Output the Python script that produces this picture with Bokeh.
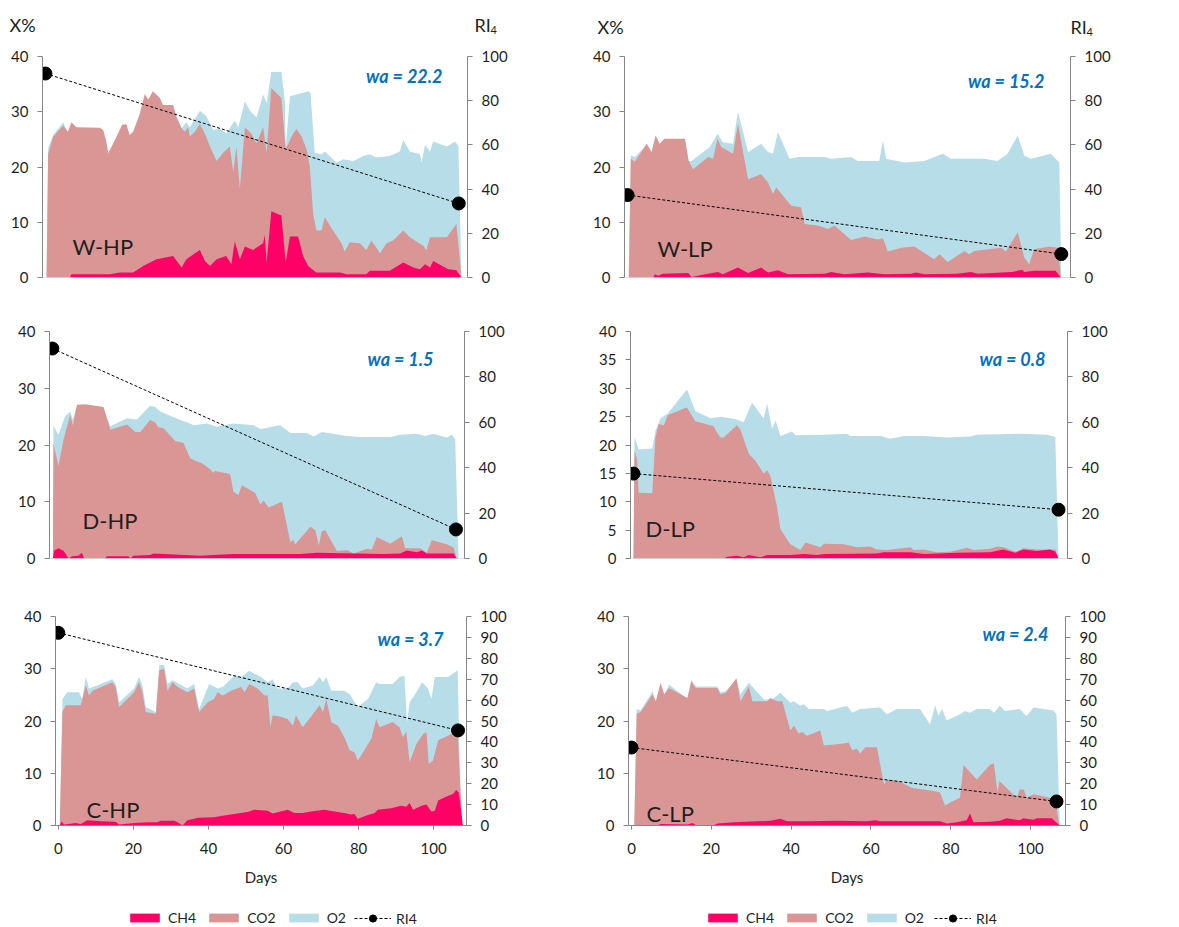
from bokeh.plotting import figure
from bokeh.models import Range1d, LinearAxis, Label, Legend, LegendItem, FixedTicker, Span
from bokeh.layouts import row, column
from bokeh.embed import file_html
from bokeh.resources import INLINE
from bokeh.core.properties import value

# ---------------- data (day, value %) ----------------
ri_days = [0, 106.5]

# W-HP
whp_ch4 = [(6.3,0),(6.7,0.6),(16.6,0.6),(19.2,0.9),(22.6,0.9),(25.2,2.1),(28.6,3.3),(32.9,3.9),(35.1,1.8),(36.3,3.3),(39.8,5.0),(41.1,3.0),(42.4,2.1),(44.1,3.3),(46.6,3.9),(47.9,2.4),(48.8,6.5),(50.1,3.3),(51.4,5.6),(53.5,5.0),(56.1,6.2),(56.5,7.7),(57.0,2.7),(58.2,12.0),(60.8,11.2),(61.9,2.7),(63.0,7.4),(65.1,7.4),(66.4,3.9),(67.7,2.1),(69.8,0.9),(75.9,0.9),(77.6,0.6),(82.7,0.6),(83.6,1.2),(88.7,1.2),(92.2,2.7),(94.8,1.8),(96.5,1.5),(97.8,2.4),(99.1,1.8),(99.9,3.0),(103.8,1.5),(105.9,1.3),(107.2,0)]
whp_co2 = [(0.3,0),(0.7,22.3),(2.0,25.5),(4.6,27.5),(5.8,26.4),(6.7,28.1),(8.0,27.2),(14.0,27.1),(14.9,26.7),(15.6,24.9),(16.2,22.5),(17.9,24.9),(19.8,27.7),(20.9,27.7),(21.7,25.8),(22.6,26.4),(24.3,29.6),(25.6,33.2),(26.5,32.2),(27.7,33.7),(29.5,32.5),(30.3,31.2),(32.9,31.2),(33.8,29.0),(35.1,27.0),(35.9,26.4),(36.8,27.2),(37.2,25.5),(38.5,26.4),(39.8,27.8),(41.1,26.0),(42.4,23.7),(44.1,21.1),(45.8,22.6),(47.5,23.7),(48.4,19.1),(49.2,23.7),(50.1,16.1),(51.4,27.2),(53.1,26.0),(54.4,24.3),(56.1,27.2),(57.0,22.6),(58.2,34.3),(60.8,32.5),(61.9,23.2),(63.8,26.0),(64.7,26.9),(66.0,25.5),(67.3,23.2),(68.1,20.2),(69.0,11.5),(69.8,8.5),(71.1,8.5),(72.0,10.9),(74.1,8.5),(76.3,6.2),(77.1,4.7),(78.4,6.4),(81.0,6.2),(82.7,5.0),(84.0,6.7),(86.2,4.4),(87.9,6.2),(89.6,6.7),(92.2,8.5),(93.9,7.3),(96.5,6.1),(97.3,5.8),(98.2,5.0),(99.1,7.3),(103.4,7.3),(105.9,9.7),(107.2,0)]
whp_o2 = [(0.3,0),(0.7,23.4),(2.0,25.8),(4.6,28.1),(5.8,26.0),(6.7,27.5),(8.0,26.5),(14.0,26.5),(15.6,24.0),(16.2,21.8),(17.9,24.0),(19.8,27.0),(20.9,27.0),(21.7,25.0),(22.6,25.5),(24.3,29.0),(25.6,32.5),(26.5,31.5),(27.7,33.0),(29.5,31.8),(30.3,30.5),(32.9,30.5),(33.8,29.0),(35.1,27.0),(36.3,28.1),(37.2,27.2),(39.8,30.2),(41.5,29.2),(43.2,26.7),(44.9,27.0),(46.6,26.1),(48.8,28.4),(49.7,27.2),(51.4,31.9),(52.7,30.2),(54.4,29.0),(56.1,33.1),(57.0,31.6),(58.2,37.2),(60.8,37.2),(61.7,31.9),(61.9,23.5),(63.0,32.8),(64.7,33.1),(67.7,33.7),(68.3,33.4),(69.4,22.6),(71.1,22.3),(72.0,22.8),(74.1,21.4),(75.0,20.8),(76.7,21.4),(79.3,21.1),(81.9,22.0),(83.6,22.3),(85.3,21.7),(88.7,22.0),(91.3,22.8),(92.2,24.9),(93.9,22.8),(96.5,22.3),(96.9,20.8),(97.8,24.0),(99.1,22.8),(99.9,24.6),(103.4,23.7),(105.6,24.6),(106.4,23.7),(107.2,0)]
whp_ri = [92.3, 33.5]

# W-LP
wlp_ch4 = [(6.3,0),(6.7,0.6),(7.5,0.3),(8.7,0.7),(14.9,0.8),(15.7,0.1),(19.0,0.6),(22.2,1.0),(23.4,0.6),(27.1,1.8),(29.6,0.8),(32.8,1.8),(34.5,0.9),(36.9,1.3),(39.4,0.6),(48.4,0.7),(50.0,1.0),(53.3,0.6),(59.0,0.9),(63.1,0.6),(69.6,0.7),(70.8,0.9),(72.9,0.6),(81.0,0.7),(84.3,1.0),(86.0,0.7),(94.4,1.0),(96.9,1.4),(97.4,1.0),(99.8,1.2),(105.1,1.2),(106.4,0)]
wlp_co2 = [(0.3,0),(0.8,21.5),(1.8,21.0),(4.7,24.2),(5.9,22.7),(6.9,25.7),(7.9,24.2),(9.0,25.1),(14.1,25.1),(15.0,21.1),(16.1,19.6),(18.1,20.8),(19.8,21.8),(21.0,21.5),(22.1,25.1),(23.0,23.6),(25.9,22.4),(27.1,27.8),(29.6,17.8),(32.8,18.7),(34.5,17.2),(35.7,15.1),(36.5,16.3),(40.2,13.0),(42.6,12.7),(43.5,9.7),(46.7,9.4),(49.2,8.8),(50.8,9.4),(54.9,6.8),(58.2,7.4),(61.4,6.9),(62.7,7.1),(63.9,4.7),(67.2,5.4),(70.4,5.6),(72.1,4.8),(75.3,3.3),(76.6,4.2),(78.6,2.8),(82.7,4.8),(83.9,4.2),(85.1,4.8),(91.7,5.4),(92.9,4.7),(95.8,8.2),(97.4,3.6),(98.6,2.4),(99.8,5.1),(103.5,5.6),(105.6,5.4),(106.4,0)]
wlp_o2 = [(0.3,0),(0.8,22.1),(1.8,21.8),(4.7,24.0),(5.9,22.5),(6.9,25.5),(7.9,24.0),(9.0,24.9),(14.1,24.9),(15.0,21.1),(15.7,21.1),(20.2,23.6),(22.1,26.0),(23.4,24.5),(25.9,24.2),(27.1,30.0),(29.6,22.7),(32.8,24.2),(34.5,22.7),(35.7,22.4),(36.9,26.3),(39.8,21.5),(41.8,21.8),(48.4,21.8),(50.0,21.5),(54.9,21.8),(56.5,21.1),(61.8,21.1),(62.7,24.8),(63.5,21.5),(68.0,20.8),(72.9,21.1),(77.4,22.4),(79.4,21.5),(87.6,21.5),(90.8,21.1),(93.3,22.4),(95.8,25.7),(97.4,22.1),(99.0,21.5),(103.9,22.4),(106.0,20.8),(106.5,0)]
wlp_ri = [37.3, 10.6]

# D-HP
dhp_ch4 = [(0.15,0),(0.5,1.4),(1.6,1.8),(3.0,1.3),(4.3,0),(5.2,0.4),(6.9,0.5),(7.8,1.0),(8.4,0),(13.9,0),(14.4,0.4),(20.1,0.4),(20.5,0),(21.4,0.5),(25.8,0.6),(26.7,0.9),(39.0,0.5),(42.5,0.6),(47.8,0.8),(65.4,0.8),(69.8,1.0),(87.4,0.8),(91.8,0.9),(93.5,1.4),(96.2,1.1),(97.5,1.4),(98.8,0.9),(105.9,0.9),(106.7,0)]
dhp_co2 = [(0.15,0),(0.3,20.3),(1.6,16.3),(3.0,21.1),(4.7,25.3),(5.4,23.5),(6.5,27.1),(8.7,27.2),(13.5,26.7),(15.3,22.7),(19.7,23.6),(21.9,22.3),(23.2,22.3),(25.8,24.4),(27.1,24.0),(28.0,23.1),(29.3,23.0),(32.4,20.7),(34.6,20.4),(36.4,17.6),(39.9,16.6),(41.7,15.7),(42.5,15.1),(42.9,15.4),(46.9,14.9),(47.8,11.7),(49.1,11.2),(50.0,12.9),(53.5,11.6),(54.9,9.5),(55.7,10.2),(57.1,9.0),(60.6,10.0),(62.8,2.8),(63.5,3.3),(64.1,2.5),(68.1,5.6),(69.4,5.0),(70.3,2.3),(71.1,4.8),(72.0,5.0),(75.1,1.3),(77.7,1.5),(79.5,0.9),(83.0,1.7),(84.3,1.6),(85.6,3.8),(89.2,2.6),(92.2,3.9),(93.1,1.8),(97.1,1.8),(98.8,1.0),(100.1,3.2),(104.1,2.5),(105.9,1.9),(106.7,0)]
dhp_o2 = [(0.15,0),(0.3,23.4),(1.6,21.8),(3.3,25.0),(4.7,25.9),(5.4,24.5),(6.5,26.8),(8.7,26.9),(13.5,26.4),(15.3,23.3),(19.7,24.7),(22.3,24.5),(25.8,26.9),(27.1,26.7),(28.5,25.9),(32.0,24.9),(33.8,24.4),(35.5,24.0),(37.3,23.5),(40.8,23.8),(43.4,23.2),(47.8,23.8),(53.1,23.5),(54.9,22.8),(60.1,23.5),(62.8,22.1),(67.2,22.1),(68.9,21.5),(71.1,22.3),(77.7,21.6),(81.2,21.4),(89.2,21.4),(91.8,21.8),(96.2,22.0),(98.4,21.6),(100.5,22.0),(104.1,21.3),(105.4,21.8),(106.3,21.0),(107.2,0)]
dhp_ri = [92.5, 12.8]

# D-LP
dlp_ch4 = [(22.6,0),(23.5,0.3),(25.9,0.5),(27.6,0.2),(28.9,0.6),(31.8,0.2),(33.5,0.6),(39.3,0.6),(42.7,0.8),(46.0,0.6),(47.7,0.8),(61.0,0.9),(62.7,1.1),(69.4,1.1),(72.7,0.8),(81.2,1.0),(89.4,1.1),(92.7,1.6),(95.7,1.0),(97.7,1.6),(101.1,1.3),(104.4,1.6),(105.7,1.2),(106.5,0)]
dlp_co2 = [(0.0,0),(0.25,19.0),(0.9,17.5),(1.3,11.6),(4.7,11.5),(5.5,21.3),(6.3,23.7),(7.6,23.5),(8.6,25.3),(13.4,26.6),(15.5,24.2),(20.1,23.3),(20.9,22.2),(21.8,21.3),(22.6,21.3),(25.9,23.5),(26.8,22.7),(28.9,18.4),(30.6,17.2),(32.6,15.0),(33.5,15.5),(34.3,14.6),(36.0,9.0),(36.8,5.2),(39.3,2.5),(40.6,2.0),(41.8,1.5),(43.1,2.8),(46.8,2.0),(47.7,2.6),(52.7,2.5),(56.0,2.0),(59.3,2.1),(61.0,1.6),(63.5,1.5),(69.4,2.0),(70.2,1.5),(72.7,1.6),(76.0,1.1),(79.4,1.2),(83.6,1.9),(85.2,1.5),(89.4,1.7),(91.1,2.1),(92.7,2.0),(95.7,1.2),(97.7,1.8),(101.1,1.6),(105.7,1.6),(106.5,0)]
dlp_o2 = [(0.0,0),(0.25,21.4),(1.3,19.2),(4.7,19.4),(5.5,22.5),(6.8,24.7),(8.5,25.5),(13.4,29.8),(15.5,26.0),(19.3,24.7),(21.8,25.0),(25.5,24.6),(27.6,24.0),(29.7,27.5),(32.6,24.7),(33.5,27.3),(34.7,22.8),(35.6,24.3),(36.8,21.6),(39.7,22.4),(40.6,21.7),(47.7,21.8),(53.5,22.0),(54.3,21.6),(61.9,21.6),(64.4,21.1),(67.7,21.6),(72.7,21.6),(78.6,21.3),(84.4,21.5),(86.1,21.8),(97.7,22.0),(103.6,21.8),(105.7,21.4),(106.5,0)]
dlp_ri = [37.4, 21.5]

# C-HP
chp_ch4 = [(0.4,0),(0.9,0.8),(1.5,0.2),(2.8,0.3),(4.6,0.5),(6.0,0.3),(7.7,1.0),(11.3,0.8),(15.3,0.7),(16.2,0.2),(20.2,0.5),(23.8,0.6),(26.4,0.6),(27.3,0.9),(30.9,0.9),(31.8,0.6),(33.1,0),(34.4,1.0),(36.2,1.3),(37.1,1.5),(41.5,1.6),(43.3,1.8),(46.0,2.1),(50.4,2.6),(52.2,3.0),(55.8,2.8),(57.1,2.3),(61.1,3.0),(62.9,2.4),(65.1,2.4),(67.3,2.7),(70.9,3.0),(73.6,2.7),(76.2,2.4),(78.0,2.1),(78.9,2.2),(79.8,1.3),(82.5,2.0),(84.3,2.4),(85.1,3.0),(88.7,3.3),(91.3,3.8),(92.7,3.6),(93.6,4.3),(94.5,3.0),(96.8,3.8),(98.1,4.0),(99.4,2.7),(100.3,2.8),(101.2,4.8),(103.0,5.4),(105.2,6.1),(106.0,6.8),(106.7,6.3),(107.8,0)]
chp_co2 = [(0.4,0),(1.1,21.7),(2.0,23.0),(6.0,23.0),(7.3,26.8),(8.2,24.9),(9.1,25.8),(14.4,27.4),(15.3,26.5),(16.2,22.7),(20.2,25.5),(21.5,27.4),(22.4,25.5),(23.3,21.7),(26.0,21.4),(26.9,29.7),(28.2,30.0),(29.1,25.8),(30.4,27.4),(31.8,26.5),(34.4,25.5),(36.2,26.2),(37.5,21.7),(39.8,23.6),(41.5,24.2),(42.4,25.5),(43.8,24.9),(46.0,25.8),(48.7,26.5),(49.6,25.5),(50.9,27.1),(53.1,26.2),(54.9,24.9),(55.8,24.9),(56.5,18.8),(57.1,21.1),(59.3,20.8),(61.1,20.4),(62.5,19.1),(63.3,21.1),(65.1,18.8),(67.3,20.8),(69.6,23.0),(70.5,21.7),(71.4,24.2),(72.7,19.8),(74.5,19.1),(76.2,16.9),(77.6,14.4),(78.9,14.0),(79.8,12.4),(83.4,16.6),(84.7,20.4),(85.6,18.8),(89.1,19.8),(90.9,18.8),(91.8,16.9),(92.7,18.0),(93.6,12.1),(95.4,15.6),(97.2,17.5),(98.1,17.9),(98.7,11.8),(99.8,12.4),(101.2,16.3),(103.8,17.2),(106.4,18.2),(107.6,0)]
chp_o2 = [(0.4,0),(1.1,24.2),(2.4,25.5),(5.5,25.5),(6.4,24.2),(7.3,28.4),(8.2,26.2),(11.3,27.1),(14.4,28.0),(15.3,27.1),(16.2,23.6),(20.2,26.2),(21.5,28.4),(22.4,26.8),(23.3,22.7),(26.0,21.7),(26.9,30.7),(28.2,30.7),(29.1,27.1),(30.4,27.8),(34.4,26.2),(36.2,27.1),(37.5,22.3),(40.2,27.1),(42.4,26.2),(43.8,26.5),(46.9,28.7),(48.7,28.4),(50.9,29.6),(54.0,28.4),(55.8,27.4),(57.1,28.0),(58.4,26.2),(61.1,26.2),(62.5,27.4),(63.8,27.4),(65.1,26.2),(67.8,26.8),(69.6,28.4),(70.5,27.4),(71.4,28.4),(72.7,25.8),(76.2,25.8),(77.6,25.1),(79.8,22.7),(82.5,24.2),(84.7,27.4),(85.6,27.1),(89.1,27.1),(90.9,28.4),(92.2,28.7),(92.9,19.8),(93.6,23.6),(95.4,25.5),(96.9,27.4),(98.5,26.2),(99.4,24.2),(100.3,28.4),(103.8,28.4),(106.4,29.7),(107.3,0)]
chp_ri = [92.2, 45.5]

# C-LP
clp_ch4 = [(6.5,0),(7.3,0.3),(14.0,0.2),(15.3,0.5),(16.1,0.1),(20.7,0.1),(21.5,0.4),(25.7,0.6),(31.5,0.8),(34.8,0.9),(37.3,1.3),(39.0,0.8),(44.8,0.8),(51.5,0.9),(59.0,0.8),(61.1,1.0),(62.3,0.8),(77.3,0.8),(79.0,0.4),(81.5,0.6),(84.0,1.0),(84.8,2.3),(85.7,0.6),(89.8,0.7),(92.3,0.9),(94.0,1.4),(97.3,1.0),(98.2,1.4),(100.7,1.1),(101.5,1.4),(105.3,1.4),(107.3,0)]
clp_co2 = [(0.7,0),(1.3,21.4),(2.3,21.7),(5.3,25.1),(6.1,23.8),(7.3,27.3),(8.2,25.1),(9.4,26.3),(14.0,24.4),(15.0,27.6),(16.1,26.3),(21.5,26.3),(22.3,25.1),(23.6,25.4),(26.3,28.2),(27.3,23.8),(29.4,26.6),(30.3,23.8),(34.0,23.8),(34.8,24.4),(36.5,23.8),(37.8,23.8),(39.8,18.2),(40.7,19.1),(41.9,17.6),(42.8,17.9),(44.0,17.2),(47.3,18.2),(48.2,15.3),(53.2,15.7),(54.4,15.9),(55.3,14.4),(56.5,14.7),(57.3,13.8),(58.6,15.0),(61.5,15.0),(62.8,9.7),(63.3,7.8),(64.0,8.8),(66.9,8.5),(70.3,7.2),(73.2,6.9),(75.7,6.6),(77.3,6.3),(78.6,3.8),(79.8,4.4),(82.3,5.3),(83.2,11.6),(86.5,8.8),(89.8,11.6),(90.8,11.9),(91.7,6.3),(92.2,8.5),(94.8,6.6),(96.5,5.3),(97.3,6.9),(98.3,6.9),(99.0,5.3),(100.7,6.0),(104.8,5.3),(106.3,4.7),(107.2,0)]
clp_o2 = [(0.7,0),(1.3,22.3),(2.3,22.0),(5.3,25.7),(6.1,23.5),(7.3,27.0),(8.2,24.8),(9.4,27.0),(14.0,24.2),(15.0,27.9),(16.1,26.6),(21.5,26.6),(22.3,25.5),(23.6,25.7),(26.3,28.0),(27.3,25.1),(29.4,27.3),(33.2,24.1),(35.2,24.1),(37.3,25.4),(39.8,23.5),(40.7,23.8),(42.3,22.9),(43.2,23.2),(44.4,22.3),(48.2,22.3),(49.0,21.9),(54.0,22.9),(55.3,21.6),(57.3,22.3),(62.3,22.6),(64.0,21.3),(66.5,22.3),(72.3,22.3),(74.8,19.4),(76.1,23.0),(76.9,21.0),(77.8,22.3),(79.0,20.1),(82.3,21.3),(83.6,21.9),(84.8,21.6),(86.5,22.3),(89.8,22.3),(90.8,21.6),(92.3,22.9),(93.6,21.9),(97.3,22.3),(99.0,20.9),(100.7,22.6),(105.7,22.0),(106.5,21.3),(107.3,0)]
clp_ri = [37.3, 11.5]

panel_names = ["W-HP", "W-LP", "D-HP", "D-LP", "C-HP", "C-LP"]
wa_labels = ["wa = 22.2", "wa = 15.2", "wa = 1.5", "wa = 0.8", "wa = 3.7", "wa = 2.4"]
x_ticks = [0, 20, 40, 60, 80, 100]
left_ticks_10 = [0, 10, 20, 30, 40]
left_ticks_5 = [0, 5, 10, 15, 20, 25, 30, 35, 40]
right_ticks_20 = [0, 20, 40, 60, 80, 100]
right_ticks_10 = [0, 10, 20, 30, 40, 50, 60, 70, 80, 90, 100]
legend_labels = ["CH4", "CO2", "O2", "RI4"]
axis_titles = ["X%", "RI", "4"]

# ---------------- style ----------------
CH4_C = "#FF0066"
CO2_C = "#D99694"
O2_C = "#B7DEE8"
FONT = "Lato"
AXC = "#868686"
TXT = "#1F1F1F"
WA_C = "#0070C0"
PAGE_W = 1175
HEAD_H = 48

# layout: figure box (x0, y0, w, h) and frame (L, R, T, B) in page pixels
panels = [
    dict(ch4=whp_ch4, co2=whp_co2, o2=whp_o2, ri=whp_ri, fig=(0, HEAD_H, 590, 300 - HEAD_H), frame=(42, 467, 54, 282),
         lt=left_ticks_10, rt=right_ticks_20, xlab=False, wap=(442, 80), lp=(72, 251)),
    dict(ch4=wlp_ch4, co2=wlp_co2, o2=wlp_o2, ri=wlp_ri, fig=(590, HEAD_H, 585, 300 - HEAD_H), frame=(623, 1070, 56, 277),
         lt=left_ticks_10, rt=right_ticks_20, xlab=False, wap=(1043, 80), lp=(656, 248)),
    dict(ch4=dhp_ch4, co2=dhp_co2, o2=dhp_o2, ri=dhp_ri, fig=(0, 300, 590, 280), frame=(49, 464, 331, 558),
         lt=left_ticks_10, rt=right_ticks_20, xlab=False, wap=(433, 358), lp=(82, 520)),
    dict(ch4=dlp_ch4, co2=dlp_co2, o2=dlp_o2, ri=dlp_ri, fig=(590, 300, 585, 280), frame=(630, 1067, 328, 558),
         lt=left_ticks_5, rt=right_ticks_20, xlab=False, wap=(1045, 358), lp=(645, 528)),
    dict(ch4=chp_ch4, co2=chp_co2, o2=chp_o2, ri=chp_ri, fig=(0, 580, 590, 313), frame=(55, 466, 616, 825),
         lt=left_ticks_10, rt=right_ticks_10, xlab=True, wap=(443, 638), lp=(86, 809)),
    dict(ch4=clp_ch4, co2=clp_co2, o2=clp_o2, ri=clp_ri, fig=(590, 580, 585, 313), frame=(628, 1065, 612, 825),
         lt=left_ticks_10, rt=right_ticks_10, xlab=True, wap=(1048, 633), lp=(646, 813)),
]


def unzip(pairs):
    return [a for a, _ in pairs], [b for _, b in pairs]


def style_axis(ax):
    ax.axis_line_color = AXC
    ax.major_tick_line_color = AXC
    ax.minor_tick_line_color = None
    ax.major_tick_in = 0
    ax.major_tick_out = 5
    ax.major_label_standoff = 9
    ax.major_label_text_font = FONT
    ax.major_label_text_font_size = "15px"
    ax.major_label_text_color = TXT


def make_panel(i, c):
    x0, y0, w, h = c["fig"]
    L, R, T, B = c["frame"]
    p = figure(width=w, height=h, x_range=Range1d(-0.75, 108.75), y_range=Range1d(0, 40),
               toolbar_location=None, output_backend="svg",
               min_border_left=L - x0, min_border_right=x0 + w - R,
               min_border_top=T - y0, min_border_bottom=y0 + h - B,
               outline_line_color=None, background_fill_color="white", border_fill_color="white")
    p.xgrid.visible = False
    p.ygrid.visible = False
    p.extra_y_ranges = {"ri": Range1d(0, 100)}
    p.add_layout(LinearAxis(y_range_name="ri", ticker=FixedTicker(ticks=c["rt"])), "right")
    p.yaxis[0].ticker = FixedTicker(ticks=c["lt"])
    for ax in p.yaxis:
        style_axis(ax)
    if c["xlab"]:
        ax = p.xaxis[0]
        style_axis(ax)
        ax.ticker = FixedTicker(ticks=x_ticks)
        ax.major_tick_out = 4
        ax.major_label_standoff = 13
        ax.axis_label = "Days"
        ax.axis_label_text_font = FONT
        ax.axis_label_text_font_size = "15px"
        ax.axis_label_text_font_style = "normal"
        ax.axis_label_text_color = TXT
        ax.axis_label_standoff = 11
    else:
        p.xaxis.visible = False
        p.add_layout(Span(location=0, dimension="width", line_color="#BFBFBF", line_width=1))

    for key, col in (("o2", O2_C), ("co2", CO2_C), ("ch4", CH4_C)):
        d, v = unzip(c[key])
        p.varea(x=d, y1=0, y2=v, fill_color=col)

    p.line(x=ri_days, y=c["ri"], y_range_name="ri", line_color="black", line_width=1, line_dash="3 2")
    p.scatter(x=ri_days, y=c["ri"], y_range_name="ri", size=13, fill_color="black", line_color="black")

    def lab(text, ix, iy, size, align="left", color=TXT, style="normal"):
        p.add_layout(Label(x=ix - L, y=B - iy, x_units="screen", y_units="screen", text=text,
                           text_font=FONT, text_font_size=size, text_align=align,
                           text_baseline="alphabetic", text_color=color, text_font_style=style))

    lab(wa_labels[i], c["wap"][0], c["wap"][1], "18px", align="right", color=WA_C, style="bold italic")
    lab(panel_names[i], c["lp"][0], c["lp"][1], "22px")
    return p


figs = [make_panel(i, c) for i, c in enumerate(panels)]

# ---------------- header strip with axis titles (page pixel coords, y downward) ----------------
hd = figure(width=PAGE_W, height=HEAD_H, toolbar_location=None, output_backend="svg",
            x_range=Range1d(0, PAGE_W), y_range=Range1d(HEAD_H, 0), min_border=0,
            outline_line_color=None, x_axis_location=None, y_axis_location=None,
            background_fill_color="white", border_fill_color="white")
hd.xgrid.visible = False
hd.ygrid.visible = False
hd.text(x=[9, 474, 597, 1070], y=[24, 24, 26, 26],
        text=[axis_titles[0], axis_titles[1], axis_titles[0], axis_titles[1]],
        text_font=value(FONT), text_font_size=value("18px"), text_color=TXT,
        text_baseline=value("alphabetic"), text_align=value("left"))
hd.text(x=[490, 1086], y=[29, 31], text=[axis_titles[2], axis_titles[2]],
        text_font=value(FONT), text_font_size=value("11px"), text_color=TXT,
        text_baseline=value("alphabetic"), text_align=value("left"))

# ---------------- legend strip ----------------
lg = figure(width=PAGE_W, height=34, toolbar_location=None, output_backend="svg",
            x_range=Range1d(0, 1), y_range=Range1d(0, 1), min_border=0,
            outline_line_color=None, x_axis_location=None, y_axis_location=None,
            background_fill_color="white", border_fill_color="white")
lg.xgrid.visible = False
lg.ygrid.visible = False
# legend-only renderers, kept outside the visible range of this strip
off_x = [5, 6]
r_ch4 = lg.varea(x=off_x, y1=[0, 0], y2=[1, 1], fill_color=CH4_C)
r_co2 = lg.varea(x=off_x, y1=[0, 0], y2=[1, 1], fill_color=CO2_C)
r_o2 = lg.varea(x=off_x, y1=[0, 0], y2=[1, 1], fill_color=O2_C)
r_ln = lg.line(x=off_x, y=[0, 0], line_color="black", line_width=1, line_dash="3 2")
r_pt = lg.scatter(x=off_x, y=[0, 0], size=11, fill_color="black", line_color="black")

for gx, rx in ((126, 354), (704, 934)):
    la = Legend(items=[LegendItem(label=legend_labels[0], renderers=[r_ch4], index=0),
                       LegendItem(label=legend_labels[1], renderers=[r_co2], index=0),
                       LegendItem(label=legend_labels[2], renderers=[r_o2], index=0)],
                location=(gx, 1), orientation="horizontal", glyph_width=37, glyph_height=11,
                label_standoff=5, spacing=9, padding=0, margin=0, border_line_color=None,
                background_fill_alpha=0, label_text_font=FONT, label_text_font_size="14px",
                label_height=11, label_text_color=TXT)
    lb = Legend(items=[LegendItem(label=legend_labels[3], renderers=[r_ln, r_pt], index=0)],
                location=(rx, 0), orientation="horizontal", glyph_width=37, glyph_height=18,
                label_standoff=5, spacing=0, padding=0, margin=0, border_line_color=None,
                background_fill_alpha=0, label_text_font=FONT, label_text_font_size="14px",
                label_height=11, label_text_color=TXT)
    lg.add_layout(la)
    lg.add_layout(lb)

layout = column(hd, row(figs[0], figs[1]), row(figs[2], figs[3]), row(figs[4], figs[5]), lg)

open("out.html", "w").write(file_html(layout, INLINE))
